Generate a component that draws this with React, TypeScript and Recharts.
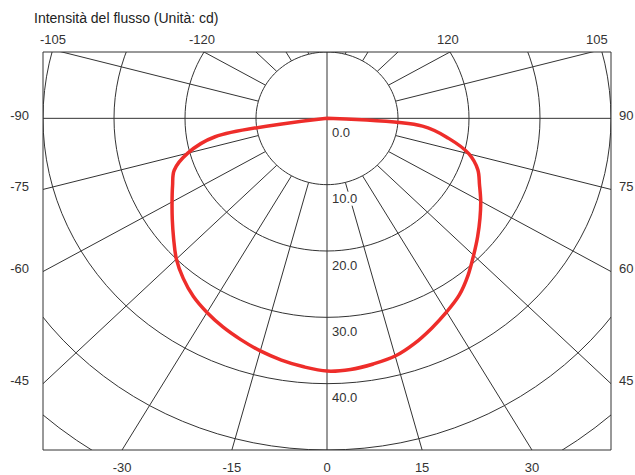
import { ComposedChart, Line, XAxis, YAxis } from 'recharts';

// intensity distribution, angle 0 points down, cd
const angles = [
  -90, -85, -80, -75, -70, -65, -60, -55, -50, -45, -40, -35, -30, -25, -20, -15, -10, -5,
  0, 5, 10, 15, 20, 25, 30, 35, 40, 45, 50, 55, 60, 65, 70, 75, 80, 85, 90,
];
const intensity = [
  0, 0, 16.0, 20.3, 22.9, 24.0, 25.2, 26.6, 28.2, 30.0, 31.5, 32.8, 33.8, 34.7, 35.5, 36.3, 37.0, 37.6,
  38.1, 38.0, 37.6, 37.1, 36.1, 34.9, 33.7, 32.5, 30.9, 29.2, 27.7, 26.3, 25.0, 23.7, 22.6, 20.7, 17.4, 13.5, 0,
];

const ringRadii = [10, 20, 30, 40, 50, 60];
const ringLabelValues = [0, 10, 20, 30, 40];
const spokeStep = 15;
const bottomTickAngles = [-30, -15, 0, 15, 30];
const topTickAngles = [-105, -120, 120, 105];
const sideTickAngles = [90, 75, 60, 45];

const X_MAX = 40;
const Y_TOP = 10;
const Y_BOTTOM = -50;

const rad = (d: number) => (d * Math.PI) / 180;
const deg = (r: number) => (r * 180) / Math.PI;
const polar = (r: number, a: number) => ({ x: r * Math.sin(rad(a)), y: -r * Math.cos(rad(a)) });

const curveData = angles.map((a, i) => polar(intensity[i], a));

const ringData = ringRadii.flatMap((r) => [
  ...Array.from({ length: 121 }, (_, i) => polar(r, i * 3)),
  { x: 0, y: null },
]);

const spokeData: { x: number; y: number | null }[] = [];
for (let a = 0; a < 360; a += spokeStep) {
  if (a % 90 === 0) continue;
  spokeData.push(polar(ringRadii[0], a), polar(100, a), { x: 0, y: null });
}
// full axes through the centre
spokeData.push({ x: 0, y: -100 }, { x: 0, y: 100 }, { x: 0, y: null });
spokeData.push({ x: -100, y: 0 }, { x: 100, y: 0 });

const labelData = ringLabelValues.map((v) => ({ x: 0, y: -v, label: v.toFixed(1) }));

// where each spoke meets the frame
const bottomTicks = bottomTickAngles.map((a) => -Y_BOTTOM * Math.tan(rad(a)));
const topTicks = topTickAngles.map((a) => (Math.sign(a) * Y_TOP) / Math.tan(rad(Math.abs(a) - 90)));
const sideTicks = sideTickAngles.map((a) => -X_MAX * Math.tan(rad(90 - a)));

const topShift: Record<string, number> = { '-105': -9, '-120': -2, '120': -2, '105': 5 };

const grid = '#333';
const tickStyle = { fontSize: 13, fill: '#333' };

const topLabel = (v: number) => String(Math.sign(v) * (90 + Math.round(deg(Math.atan(Y_TOP / Math.abs(v))))));
const bottomLabel = (v: number) => String(Math.round(deg(Math.atan(v / -Y_BOTTOM))));
const sideLabel = (v: number) => String(Math.round(90 - deg(Math.atan(-v / X_MAX))));

// centripetal catmull-rom (alpha 0.5), copes with the uneven point spacing near the centre
const catmullRom = (context: any) => {
  let pts: number[][] = [];
  const dist = (a: number[], b: number[]) => Math.hypot(a[0] - b[0], a[1] - b[1]);
  return {
    areaStart() {},
    areaEnd() {},
    lineStart() {
      pts = [];
    },
    lineEnd() {
      const n = pts.length;
      if (!n) return;
      context.moveTo(pts[0][0], pts[0][1]);
      for (let i = 0; i < n - 1; i++) {
        const p0 = i > 0 ? pts[i - 1] : null;
        const p1 = pts[i];
        const p2 = pts[i + 1];
        const p3 = i + 2 < n ? pts[i + 2] : null;
        const l12a = Math.sqrt(dist(p1, p2));
        const l12_2a = l12a * l12a;
        let c1 = p1;
        let c2 = p2;
        if (p0) {
          const l01a = Math.sqrt(dist(p0, p1));
          if (l01a > 1e-6) {
            const l01_2a = l01a * l01a;
            const a = 2 * l01_2a + 3 * l01a * l12a + l12_2a;
            const m = 3 * l01a * (l01a + l12a);
            c1 = [0, 1].map((k) => (p1[k] * a - p0[k] * l12_2a + p2[k] * l01_2a) / m);
          }
        }
        if (p3) {
          const l23a = Math.sqrt(dist(p2, p3));
          if (l23a > 1e-6) {
            const l23_2a = l23a * l23a;
            const b = 2 * l23_2a + 3 * l23a * l12a + l12_2a;
            const m = 3 * l23a * (l23a + l12a);
            c2 = [0, 1].map((k) => (p2[k] * b + p1[k] * l23_2a - p3[k] * l12_2a) / m);
          }
        }
        context.bezierCurveTo(c1[0], c1[1], c2[0], c2[1], p2[0], p2[1]);
      }
    },
    point(x: number, y: number) {
      pts.push([+x, +y]);
    },
  };
};

const RingLabel = (props: any) => {
  const { cx, cy, payload, index } = props;
  if (cx == null || cy == null) return <g key={index} />;
  const w = payload.label.length * 7.2 + 2;
  return (
    <g key={index}>
      <rect x={cx + 4} y={cy + 7} width={w} height={14} fill="#fff" />
      <text x={cx + 5} y={cy + 14} dy="0.355em" fontSize={13} fill="#333">
        {payload.label}
      </text>
    </g>
  );
};

export default function App() {
  return (
    <div
      style={{
        position: 'absolute',
        left: 0,
        top: 0,
        width: 635,
        height: 475,
        background: '#fff',
        fontFamily: '"Liberation Sans", Arial, sans-serif',
      }}
    >
      <div style={{ position: 'absolute', left: 34, top: 10, fontSize: 14, color: '#222', lineHeight: '16px' }}>
        Intensità del flusso (Unità: cd)
      </div>
      <ComposedChart width={635} height={475} margin={{ top: 32, right: 4, bottom: 5, left: 3 }}>
        <XAxis
          dataKey="x"
          type="number"
          domain={[-X_MAX, X_MAX]}
          allowDataOverflow
          ticks={bottomTicks}
          interval={0}
          height={20}
          tickLine={false}
          tickMargin={7}
          axisLine={{ stroke: grid }}
          tick={tickStyle}
          tickFormatter={bottomLabel}
        />
        <XAxis
          xAxisId="top"
          dataKey="x"
          orientation="top"
          type="number"
          domain={[-X_MAX, X_MAX]}
          allowDataOverflow
          ticks={topTicks}
          interval={0}
          height={20}
          tickLine={false}
          axisLine={{ stroke: grid }}
          tick={(p: any) => {
            const label = topLabel(p.payload.value);
            return (
              <text key={label} x={p.x + (topShift[label] || 0)} y={p.y} textAnchor="middle" fontSize={13} fill="#333">
                {label}
              </text>
            );
          }}
        />
        <YAxis
          dataKey="y"
          type="number"
          domain={[Y_BOTTOM, Y_TOP]}
          allowDataOverflow
          ticks={sideTicks}
          interval={0}
          width={40}
          tickLine={false}
          axisLine={{ stroke: grid }}
          tick={(p: any) => {
            const label = '-' + sideLabel(p.payload.value);
            return (
              <text key={label} x={p.x - 6} y={p.y - 3} dy="0.355em" textAnchor="end" fontSize={13} fill="#333">
                {label}
              </text>
            );
          }}
        />
        <YAxis
          yAxisId="right"
          dataKey="y"
          orientation="right"
          type="number"
          domain={[Y_BOTTOM, Y_TOP]}
          allowDataOverflow
          ticks={sideTicks}
          interval={0}
          width={20}
          tickLine={false}
          axisLine={{ stroke: grid }}
          tick={(p: any) => {
            const label = sideLabel(p.payload.value);
            return (
              <text key={label} x={p.x} y={p.y - 3} dy="0.355em" textAnchor="start" fontSize={13} fill="#333">
                {label}
              </text>
            );
          }}
        />
        <Line data={ringData} dataKey="y" stroke={grid} strokeWidth={1} dot={false} isAnimationActive={false} />
        <Line data={spokeData} dataKey="y" stroke={grid} strokeWidth={1} dot={false} isAnimationActive={false} />
        <Line data={labelData} dataKey="y" stroke="none" dot={RingLabel} isAnimationActive={false} />
        {/* keeps the top / right axes bound to a series */}
        <Line
          data={labelData}
          xAxisId="top"
          yAxisId="right"
          dataKey="y"
          stroke="none"
          dot={false}
          isAnimationActive={false}
        />
        <Line
          data={curveData}
          type={catmullRom as any}
          dataKey="y"
          stroke="#ee2d2a"
          strokeWidth={3.5}
          strokeLinejoin="round"
          dot={false}
          isAnimationActive={false}
        />
      </ComposedChart>
    </div>
  );
}
